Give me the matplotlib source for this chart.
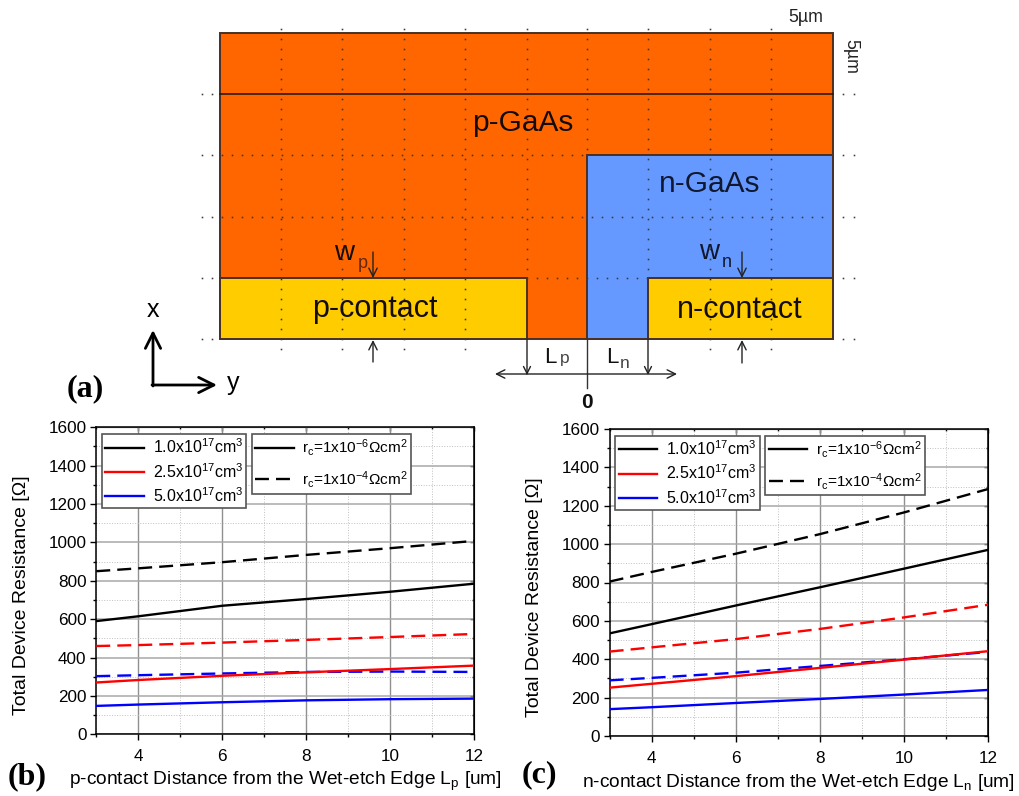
"""Recreate the device cross-section and the two resistance plots."""

import matplotlib
matplotlib.use('Agg')

import matplotlib.pyplot as plt
from matplotlib.lines import Line2D
from matplotlib.patches import Rectangle
from matplotlib.ticker import MultipleLocator

plt.rcParams['font.family'] = ['Liberation Sans', 'DejaVu Sans']
plt.rcParams['mathtext.fontset'] = 'custom'
plt.rcParams['mathtext.rm'] = 'Liberation Sans'
plt.rcParams['mathtext.default'] = 'regular'

W_PX, H_PX = 1020, 796

# distance samples [um]
dist = [3, 4, 6, 8, 10, 12]

# panel (b), resistance [ohm]
b_black_solid = [590, 615, 670, 705, 743, 785]
b_black_dash = [850, 865, 897, 935, 970, 1008]
b_red_solid = [270, 283, 305, 323, 340, 358]
b_red_dash = [460, 465, 478, 492, 507, 523]
b_blue_solid = [148, 155, 167, 177, 183, 186]
b_blue_dash = [303, 308, 317, 325, 327, 325]

# panel (c), resistance [ohm]
c_black_solid = [535, 583, 680, 775, 872, 970]
c_black_dash = [805, 855, 950, 1052, 1165, 1287]
c_red_solid = [252, 272, 312, 355, 398, 442]
c_red_dash = [440, 462, 505, 558, 618, 684]
c_blue_solid = [140, 150, 172, 193, 216, 240]
c_blue_dash = [290, 303, 330, 365, 400, 438]

doping_labels = [
    r'1.0x10$^{17}$cm$^{3}$',
    r'2.5x10$^{17}$cm$^{3}$',
    r'5.0x10$^{17}$cm$^{3}$',
]
contact_labels = [
    r'r$_{c}$=1x10$^{-6}$$\Omega$cm$^{2}$',
    r'r$_{c}$=1x10$^{-4}$$\Omega$cm$^{2}$',
]

ORANGE = '#ff6600'
BLUE = '#6699ff'
YELLOW = '#ffcc00'
DARK = '#4a3025'
DASHES = (5.9, 3.0)
LINE_W = 1.7


def px_axes(fig, left, top, right, bottom, **kwargs):
    """Add axes placed with pixel coordinates of the reference."""
    return fig.add_axes([left / W_PX, 1 - bottom / H_PX,
                         (right - left) / W_PX, (bottom - top) / H_PX],
                        **kwargs)


def arrow(ax, start, end, lw=1.0, size=6, color='#222222'):
    """Draw an open headed arrow."""
    ax.annotate('', xy=end, xytext=start,
                arrowprops=dict(arrowstyle=f'->,head_length={size / 10},'
                                f'head_width={size / 20}',
                                lw=lw, color=color, shrinkA=0, shrinkB=0))


def dots(ax, xs, ys):
    """Draw small grid dots."""
    ax.plot(xs, ys, ls='none', marker='s', ms=1.15, mfc='#3a3a3a',
            mec='none', zorder=3)


def draw_diagram(ax):
    """Draw panel (a), the device cross-section."""
    ax.set_xlim(0, W_PX)
    ax.set_ylim(H_PX, 0)
    ax.axis('off')

    rects = [
        (220, 33, 613, 306, ORANGE),
        (587, 155, 246, 184, BLUE),
        (220, 278, 307, 61, YELLOW),
        (648, 278, 185, 61, YELLOW),
    ]
    for x_0, y_0, wid, hei, col in rects:
        ax.add_patch(Rectangle((x_0, y_0), wid, hei, facecolor=col,
                               edgecolor=DARK, lw=1.4, zorder=1))
    ax.plot([220, 833], [94, 94], color='#301810', lw=1.2, zorder=2)
    ax.plot([587, 587], [339, 388], color='#333333', lw=1.0, zorder=2)

    # dotted 5um grid, some columns stop where a region boundary starts
    col_ends = [(281, 350), (342, 350), (404, 350), (465, 350), (527, 278),
                (587, 155), (648, 278), (710, 350), (771, 350)]
    for x_c, y_end in col_ends:
        ys = list(range(29, y_end, 10))
        dots(ax, [x_c] * len(ys), ys)
    for y_r in [94, 155, 217, 278, 339]:
        xs = [202, 212, 843, 854]
        dots(ax, xs, [y_r] * len(xs))
    for y_r, x_0, x_1 in [(155, 222, 587), (217, 222, 830), (278, 527, 648)]:
        xs = list(range(x_0, x_1, 10))
        dots(ax, xs, [y_r] * len(xs))

    ink = '#140c08'
    ax.text(523, 131, 'p-GaAs', fontsize=21.5, ha='center', color=ink)
    ax.text(710, 192, 'n-GaAs', fontsize=21.5, ha='center', color='#101830')
    ax.text(375, 317, 'p-contact', fontsize=22, ha='center', color=ink)
    ax.text(740, 318, 'n-contact', fontsize=22, ha='center', color=ink)
    ax.text(334, 260, 'w', fontsize=20, color=ink)
    ax.text(358, 268, 'p', fontsize=13, color='#602810')
    ax.text(699, 259, 'w', fontsize=20, color='#101830')
    ax.text(722, 267, 'n', fontsize=13, color='#101830')
    ax.text(544, 363, 'L', fontsize=16, color='#111111')
    ax.text(560, 363, 'p', fontsize=12.5, color='#444444')
    ax.text(606, 363, 'L', fontsize=16, color='#111111')
    ax.text(620, 368, 'n', fontsize=12.5, color='#444444')
    ax.text(587, 402, '0', fontsize=15, ha='center', va='center',
            fontweight='bold', color='#111111')
    ax.text(806, 22, '5µm', fontsize=12.8, ha='center', color='#222222')
    ax.text(851, 56.5, '5µm', fontsize=12.8, ha='center', va='center',
            rotation=-90, color='#222222')
    ax.text(153, 317, 'x', fontsize=18, ha='center')
    ax.text(233, 390, 'y', fontsize=18, ha='center')
    ax.text(67, 389, '(a)', fontsize=23, fontweight='bold', va='center',
            family=['Liberation Serif'])

    arrow(ax, (373, 252), (373, 278))
    arrow(ax, (373, 362), (373, 340))
    arrow(ax, (742, 252), (742, 278))
    arrow(ax, (742, 363), (742, 340))
    arrow(ax, (527, 374), (495, 374))
    arrow(ax, (527, 374), (677, 374))
    arrow(ax, (527, 339), (527, 375), size=5)
    arrow(ax, (648, 339), (648, 375), size=5)
    arrow(ax, (153, 386), (153, 330), lw=2.0, size=11, color='black')
    arrow(ax, (152, 385), (217, 385), lw=2.0, size=11, color='black')


def draw_plot(ax, series, xlabel):
    """Draw one resistance plot with its two legends."""
    for values, col, style in series:
        line, = ax.plot(dist, values, color=col, lw=LINE_W, zorder=3)
        if style == '--':
            line.set_dashes(DASHES)

    ax.set_xlim(3, 12)
    ax.set_ylim(0, 1600)
    ax.xaxis.set_major_locator(MultipleLocator(2))
    ax.xaxis.set_minor_locator(MultipleLocator(1))
    ax.yaxis.set_major_locator(MultipleLocator(200))
    ax.yaxis.set_minor_locator(MultipleLocator(100))
    ax.grid(True, which='major', axis='x', color='#909090', lw=1.0)
    ax.grid(True, which='major', axis='y', color='#a8a8a8', lw=1.1)
    ax.grid(True, which='minor', color='#c0c0c0', lw=0.7, ls=':')
    ax.set_axisbelow(True)
    ax.tick_params(which='major', direction='out', length=4, width=1.0,
                   labelsize=12.3)
    ax.tick_params(axis='x', which='major', pad=6.5)
    ax.tick_params(axis='y', which='major', pad=3)
    ax.tick_params(which='minor', direction='out', length=2.5, width=1.0)
    for spine in ax.spines.values():
        spine.set_linewidth(1.1)

    # inward ticks mirrored on the top and right edges
    top = ax.secondary_xaxis('top')
    right = ax.secondary_yaxis('right')
    top.xaxis.set_major_locator(MultipleLocator(2))
    top.xaxis.set_minor_locator(MultipleLocator(1))
    right.yaxis.set_major_locator(MultipleLocator(200))
    right.yaxis.set_minor_locator(MultipleLocator(100))
    for sec in (top, right):
        sec.tick_params(which='major', direction='in', length=3, width=1.0,
                        labelleft=False, labelright=False, labeltop=False)
        sec.tick_params(which='minor', direction='in', length=1.5, width=1.0)

    ax.set_ylabel('Total Device Resistance [Ω]', fontsize=14)
    ax.yaxis.set_label_coords(-0.175, 0.4535)
    ax.set_xlabel(xlabel, fontsize=13.8)
    ax.xaxis.set_label_coords(0.5, -0.116)

    handles_a = [Line2D([], [], color=c, lw=LINE_W)
                 for c in ('black', 'red', 'blue')]
    handles_b = [Line2D([], [], color='black', lw=LINE_W),
                 Line2D([], [], color='black', lw=LINE_W,
                        dashes=DASHES)]
    common = dict(loc='upper left', fancybox=False,
                  framealpha=1, edgecolor='#555555', borderaxespad=0,
                  handletextpad=0.55, borderpad=0.22)
    leg_a = ax.legend(handles_a, doping_labels, fontsize=11.5,
                      handlelength=2.4,
                      bbox_to_anchor=(0.015, 0.978), labelspacing=0.35,
                      **common)
    leg_a.get_frame().set_linewidth(1.2)
    leg_a.set_zorder(5)
    ax.add_artist(leg_a)
    leg_b = ax.legend(handles_b, contact_labels, fontsize=11.1,
                      handlelength=2.5,
                      bbox_to_anchor=(0.411, 0.978), labelspacing=0.7,
                      **common)
    leg_b.get_frame().set_linewidth(1.2)
    leg_b.set_zorder(5)


fig = plt.figure(figsize=(W_PX / 100, H_PX / 100), dpi=100)

ax_a = px_axes(fig, 0, 0, W_PX, H_PX)
draw_diagram(ax_a)

ax_b = px_axes(fig, 96.3, 427.3, 474.3, 734.3)
draw_plot(ax_b, [
    (b_black_solid, 'black', '-'), (b_black_dash, 'black', '--'),
    (b_red_dash, 'red', '--'), (b_blue_dash, 'blue', '--'),
    (b_red_solid, 'red', '-'), (b_blue_solid, 'blue', '-'),
], 'p-contact Distance from the Wet-etch Edge L$_{p}$ [um]')

ax_c = px_axes(fig, 609.7, 429, 988, 736)
draw_plot(ax_c, [
    (c_black_solid, 'black', '-'), (c_black_dash, 'black', '--'),
    (c_red_dash, 'red', '--'), (c_blue_dash, 'blue', '--'),
    (c_red_solid, 'red', '-'), (c_blue_solid, 'blue', '-'),
], 'n-contact Distance from the Wet-etch Edge L$_{n}$ [um]')

fig.text(8 / W_PX, 1 - 777 / H_PX, '(b)', fontsize=23, fontweight='bold',
         family=['Liberation Serif'], va='center')
fig.text(522 / W_PX, 1 - 775 / H_PX, '(c)', fontsize=23, fontweight='bold',
         family=['Liberation Serif'], va='center')

fig.savefig('out.png', dpi=100)
